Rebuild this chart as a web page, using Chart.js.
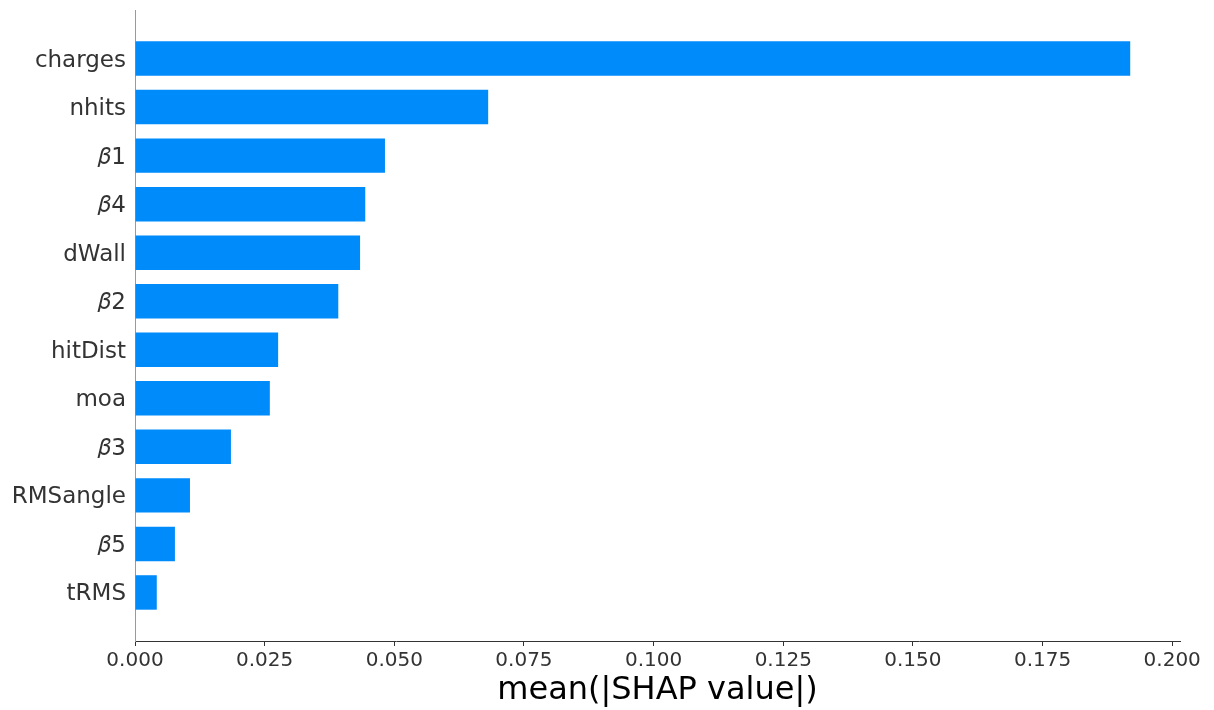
<!DOCTYPE html>
<html>
<head>
<meta charset="utf-8">
<script src="https://cdn.jsdelivr.net/npm/chart.js@4"></script>
<style>
  html, body { margin: 0; padding: 0; background: #fff; }
  #wrap { width: 1214px; height: 710px; }
</style>
</head>
<body>
<div id="wrap"><canvas id="shapChart"></canvas></div>
<script>
const features = ["charges", "nhits", "𝛽1", "𝛽4", "dWall", "𝛽2", "hitDist", "moa", "𝛽3", "RMSangle", "𝛽5", "tRMS"];
const meanShap = [0.1919, 0.0681, 0.0482, 0.0444, 0.0434, 0.0392, 0.0276, 0.0260, 0.0185, 0.0106, 0.0077, 0.0042];
const xTicks = [0, 0.025, 0.05, 0.075, 0.1, 0.125, 0.15, 0.175, 0.2];

const FONT = "'DejaVu Sans', sans-serif";

function buildShapChart() {
  const context = document.getElementById("shapChart");
  return new Chart(context, {
    type: "bar",
    data: {
      datasets: [
        {
          data: meanShap.map((value, i) => ({ x: value, y: i })),
          backgroundColor: "#008bfb",
          borderWidth: 0,
          barPercentage: 0.71,
          categoryPercentage: 1,
        },
      ],
    },
    options: {
      indexAxis: "y",
      responsive: true,
      maintainAspectRatio: false,
      animation: false,
      layout: { padding: { top: 10, right: 34, left: 0, bottom: 0 } },
      plugins: {
        legend: { display: false },
        tooltip: { enabled: false },
      },
      scales: {
        x: {
          type: "linear",
          min: 0,
          max: 0.2015,
          afterBuildTicks: (scale) => {
            scale.ticks = xTicks.map((value) => ({ value }));
          },
          afterFit: (scale) => {
            scale.height = 69;
          },
          border: { display: true, color: "#333333", width: 1 },
          grid: {
            display: true,
            drawOnChartArea: false,
            tickLength: 5,
            tickColor: "#333333",
          },
          ticks: {
            padding: 3,
            color: "#333333",
            font: { family: FONT, size: 20 },
            callback: (value) => value.toFixed(3),
          },
          title: {
            display: true,
            text: "mean(|SHAP value|)",
            color: "#000000",
            font: { family: FONT, size: 32 },
            padding: { top: 0, bottom: 0 },
          },
        },
        y: {
          type: "linear",
          reverse: true,
          offset: false,
          min: -1,
          max: 12,
          afterBuildTicks: (scale) => {
            scale.ticks = features.map((_, i) => ({ value: i }));
          },
          afterFit: (scale) => {
            scale.width = 135;
            scale.paddingTop = 0;
            scale.paddingBottom = 0;
          },
          border: { display: true, color: "#9a9a9a", width: 1 },
          grid: { display: false, drawTicks: false },
          ticks: {
            padding: 9,
            labelOffset: 2,
            color: "#333333",
            font: { family: FONT, size: 23 },
            callback: (value) => features[value] ?? "",
          },
        },
      },
    },
  });
}

buildShapChart();
</script>
</body>
</html>
